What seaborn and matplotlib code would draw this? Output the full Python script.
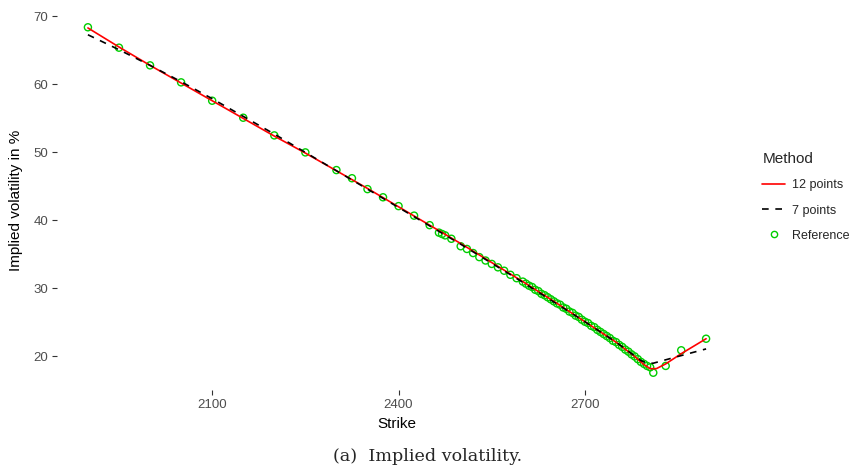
import matplotlib
matplotlib.use("Agg")
import matplotlib.pyplot as plt
import seaborn as sns
import pandas as pd
from matplotlib.lines import Line2D

# ---- data ----
ref_strike = [1900, 1950, 2000, 2050, 2100, 2150, 2200, 2250, 2300, 2325, 2350, 2375,
              2400, 2425, 2450, 2465, 2470, 2475, 2485, 2500, 2510, 2520, 2530, 2540,
              2550, 2560, 2570, 2580, 2590, 2600, 2605, 2610, 2615, 2620, 2625, 2630,
              2635, 2640, 2645, 2650, 2655, 2660, 2665, 2670, 2675, 2680, 2685, 2690,
              2695, 2700, 2705, 2710, 2715, 2720, 2725, 2730, 2735, 2740, 2745, 2750,
              2755, 2760, 2765, 2770, 2775, 2780, 2785, 2790, 2795, 2800, 2805, 2810,
              2830, 2855, 2895]
ref_vol = [68.4, 65.4, 62.8, 60.3, 57.6, 55.1, 52.5, 50.0, 47.4, 46.2, 44.6, 43.4,
           42.1, 40.7, 39.3, 38.2, 38.0, 37.8, 37.3, 36.2, 35.8, 35.2, 34.6, 34.1,
           33.6, 33.1, 32.6, 32.0, 31.5, 31.0, 30.7, 30.4, 30.2, 29.8, 29.6, 29.2,
           29.0, 28.7, 28.4, 28.1, 27.8, 27.6, 27.2, 27.0, 26.6, 26.4, 26.0, 25.8,
           25.4, 25.1, 24.9, 24.5, 24.3, 23.9, 23.6, 23.3, 23.0, 22.7, 22.3, 22.1,
           21.7, 21.4, 21.0, 20.7, 20.3, 20.0, 19.6, 19.2, 18.9, 18.6, 18.4, 17.6,
           18.6, 20.9, 22.6]

p12_strike = [1900, 1950, 2000, 2050, 2100, 2150, 2200, 2250, 2300, 2350, 2400, 2450,
              2500, 2550, 2600, 2650, 2700, 2750, 2780, 2795, 2805, 2815, 2830, 2855, 2895]
p12_vol = [68.3, 65.5, 62.8, 60.2, 57.6, 55.0, 52.4, 49.9, 47.3, 44.7, 42.0, 39.3,
           36.6, 33.8, 31.0, 28.1, 25.1, 22.1, 20.0, 18.8, 18.2, 18.2, 18.9, 20.4, 22.6]

p7_strike = [1900, 1950, 2000, 2050, 2100, 2150, 2200, 2250, 2300, 2350, 2400, 2450,
             2500, 2550, 2600, 2650, 2700, 2750, 2790, 2800, 2810, 2850, 2895]
p7_vol = [67.3, 65.1, 62.8, 60.4, 57.9, 55.3, 52.7, 50.0, 47.3, 44.6, 41.9, 39.2,
          36.5, 33.7, 30.9, 28.0, 25.1, 22.1, 19.4, 19.0, 19.0, 20.0, 21.1]

x_ticks = [2100, 2400, 2700]
y_ticks = [20, 30, 40, 50, 60, 70]

methods = ["12 points", "7 points"]
method_colors = {"12 points": "#FF0000", "7 points": "#000000"}
ref_color = "#00CD00"

# ---- build frames ----
lines_df = pd.concat([
    pd.DataFrame({"Strike": p12_strike, "Vol": p12_vol, "Method": methods[0]}),
    pd.DataFrame({"Strike": p7_strike, "Vol": p7_vol, "Method": methods[1]}),
])
ref_df = pd.DataFrame({"Strike": ref_strike, "Vol": ref_vol})

sns.set_theme(style="white")
plt.rcParams["font.family"] = ["Liberation Sans", "DejaVu Sans"]

fig = plt.figure(figsize=(8.56, 4.69), dpi=100)
ax = fig.add_axes([57 / 856, 1 - 390 / 469, (737 - 57) / 856, (390 - 10) / 469])

sns.scatterplot(data=ref_df, x="Strike", y="Vol", ax=ax, marker="o", s=26,
                facecolor="none", edgecolor=ref_color, linewidth=1.0, zorder=2,
                legend=False)
sns.lineplot(data=lines_df, x="Strike", y="Vol", hue="Method", style="Method",
             palette=method_colors, dashes={"12 points": "", "7 points": (4, 4)},
             linewidth=1.2, ax=ax, legend=False, sort=False, estimator=None, zorder=3)

ax.margins(x=0.05, y=0.05)
ax.set_xticks(x_ticks)
ax.set_yticks(y_ticks)
for s in ax.spines.values():
    s.set_visible(False)
ax.grid(False)
ax.tick_params(axis="both", which="both", length=3.5, width=0.8, color="#333333",
               labelcolor="#4D4D4D", labelsize=9.5, pad=3, direction="out",
               bottom=True, left=True)
ax.set_xlabel("Strike", fontsize=11, color="black", labelpad=4)
ax.set_ylabel("Implied volatility in %", fontsize=11, color="black", labelpad=7)

handles = [
    Line2D([], [], color="#FF0000", lw=1.2),
    Line2D([], [], color="black", lw=1.2, dashes=(4, 4)),
    Line2D([], [], color=ref_color, lw=0, marker="o", markersize=4.5,
           markerfacecolor="none", markeredgewidth=1.0),
]
leg = fig.legend(handles, ["12 points", "7 points", "Reference"], title="Method",
                 loc="upper left", bbox_to_anchor=(751 / 856, 1 - 141 / 469),
                 frameon=False, fontsize=9, title_fontsize=11, handlelength=1.8,
                 handletextpad=0.6, labelspacing=1.05, alignment="left")

fig.text(0.5, 1 - 456 / 469, "(a)  Implied volatility.", ha="center", va="center",
         fontsize=12.6, family=["DejaVu Serif", "Liberation Serif"])

fig.savefig("out.png", dpi=100)
